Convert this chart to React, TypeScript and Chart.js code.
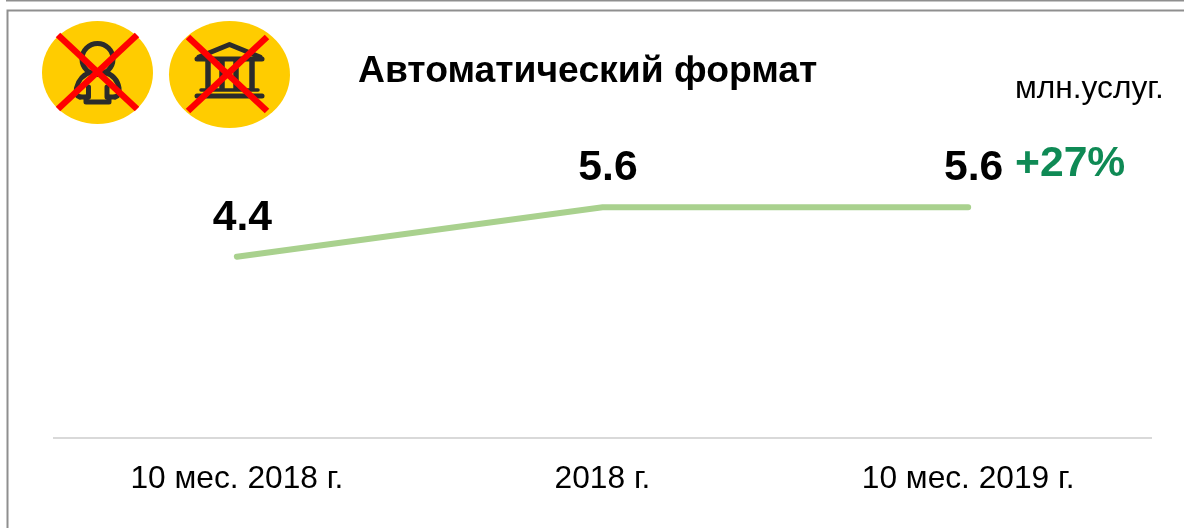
import React, { useEffect, useRef } from "react";
import { Chart, registerables } from "chart.js";

Chart.register(...registerables);

const categories = ["10 мес. 2018 г.", "2018 г.", "10 мес. 2019 г."];
const values = [4.4, 5.6, 5.6];
const valueLabels = ["4.4", "5.6", "5.6"];
const titleText = "Автоматический формат";
const unitText = "млн.услуг.";
const growthText = "+27%";

const FONT = '"Liberation Sans", Arial, sans-serif';

function line(ctx: CanvasRenderingContext2D, pts: number[][]) {
  ctx.beginPath();
  pts.forEach((p, i) => (i ? ctx.lineTo(p[0], p[1]) : ctx.moveTo(p[0], p[1])));
  ctx.stroke();
}

const decor = {
  id: "decor",
  beforeDraw(chart: any) {
    const ctx: CanvasRenderingContext2D = chart.ctx;
    ctx.save();
    ctx.fillStyle = "#ffffff";
    ctx.fillRect(0, 0, chart.width, chart.height);
    ctx.strokeStyle = "#8f8f8f";
    ctx.lineWidth = 2;
    line(ctx, [[6, 0.5], [1184, 0.5]]);
    line(ctx, [[7.5, 528], [7.5, 10.5], [1184, 10.5]]);
    ctx.restore();
  },
  afterDraw(chart: any) {
    const ctx: CanvasRenderingContext2D = chart.ctx;
    ctx.save();
    // badges
    ctx.fillStyle = "#ffcc00";
    ctx.beginPath();
    ctx.ellipse(97.5, 72.5, 55.5, 51.5, 0, 0, Math.PI * 2);
    ctx.fill();
    ctx.beginPath();
    ctx.ellipse(229.5, 74.5, 60.5, 53.5, 0, 0, Math.PI * 2);
    ctx.fill();

    // person icon
    ctx.strokeStyle = "#2b2b2b";
    ctx.lineCap = "round";
    ctx.lineJoin = "round";
    ctx.lineWidth = 5;
    ctx.beginPath();
    ctx.arc(97.5, 59, 15.5, 0, Math.PI * 2);
    ctx.stroke();
    ctx.beginPath();
    ctx.moveTo(80, 97);
    ctx.quadraticCurveTo(75, 96, 76.5, 88);
    ctx.quadraticCurveTo(79, 76, 91, 72);
    ctx.moveTo(104, 72);
    ctx.quadraticCurveTo(117, 76, 119, 88);
    ctx.quadraticCurveTo(120, 96, 115, 97);
    ctx.stroke();
    line(ctx, [[88.5, 87], [88.5, 97], [86, 97], [86, 102], [109, 102], [109, 97], [107, 97], [107, 87]]);
    line(ctx, [[80, 97], [86, 97]]);
    line(ctx, [[109, 97], [115, 97]]);

    // bank icon
    ctx.lineWidth = 5;
    line(ctx, [[199, 57], [229.5, 44.5], [260, 57]]);
    line(ctx, [[197, 59], [262, 59]]);
    line(ctx, [[197, 96], [262, 96]]);
    ctx.lineWidth = 3.5;
    line(ctx, [[201, 90], [258, 90]]);
    ctx.lineCap = "butt";
    ctx.lineWidth = 5.5;
    for (const x of [208, 222, 236, 252]) line(ctx, [[x, 60], [x, 90]]);

    // crosses
    ctx.strokeStyle = "#ff0000";
    ctx.lineWidth = 6.5;
    line(ctx, [[58, 35], [137, 109]]);
    line(ctx, [[137, 35], [58, 109]]);
    line(ctx, [[188, 37], [267, 111]]);
    line(ctx, [[267, 37], [188, 111]]);

    // texts
    ctx.textBaseline = "alphabetic";
    ctx.textAlign = "left";
    ctx.fillStyle = "#000000";
    ctx.font = `bold 37.3px ${FONT}`;
    ctx.fillText(titleText, 358, 82);
    ctx.font = `31.7px ${FONT}`;
    ctx.fillText(unitText, 1015, 98);
    ctx.fillStyle = "#0f8a55";
    ctx.font = `bold 42.67px ${FONT}`;
    ctx.fillText(growthText, 1015, 176);

    // value labels above each point
    const meta = chart.getDatasetMeta(0);
    ctx.fillStyle = "#000000";
    ctx.font = `bold 42.67px ${FONT}`;
    ctx.textAlign = "center";
    meta.data.forEach((pt: any, i: number) => {
      ctx.fillText(valueLabels[i], pt.x + 5.5, pt.y - 27);
    });
    ctx.restore();
  },
};

export default function App() {
  const ref = useRef<HTMLCanvasElement>(null);
  useEffect(() => {
    const chart = new Chart(ref.current!, {
      type: "line",
      data: {
        labels: categories,
        datasets: [
          {
            data: values,
            borderColor: "#a9d18e",
            borderWidth: 6,
            borderCapStyle: "round",
            pointRadius: 0,
            tension: 0,
            fill: false,
          },
        ],
      },
      options: {
        responsive: false,
        animation: false,
        layout: { padding: { left: 54, right: 33, top: 26, bottom: 8 } },
        plugins: { legend: { display: false }, tooltip: { enabled: false }, title: { display: false } },
        scales: {
          y: { display: false, min: 0, max: 10 },
          x: {
            offset: true,
            grid: { display: false, drawTicks: false },
            border: { display: true, color: "#d9d9d9", width: 2 },
            ticks: {
              color: "#000000",
              padding: 22,
              maxRotation: 0,
              font: { family: FONT, size: 31.7 },
            },
          },
        },
      },
      plugins: [decor],
    } as any);
    return () => chart.destroy();
  }, []);
  return (
    <canvas
      ref={ref}
      width={1184}
      height={528}
      style={{ position: "fixed", left: 0, top: 0, width: 1184, height: 528, display: "block" }}
    />
  );
}
